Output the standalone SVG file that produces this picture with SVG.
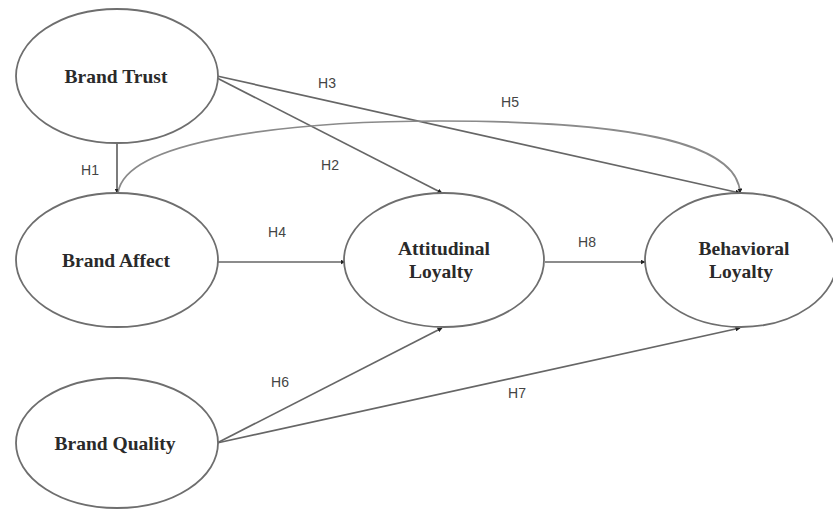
<svg xmlns="http://www.w3.org/2000/svg" width="833" height="510" viewBox="0 0 833 510">
<defs>
<marker id="ah" viewBox="0 0 10 10" refX="9" refY="5" markerWidth="5" markerHeight="5" orient="auto" markerUnits="userSpaceOnUse">
<path d="M0,0 L10,5 L0,10 z" fill="#222"/>
</marker>
<style>
.node{fill:#fff;stroke:#6e6e6e;stroke-width:1.8}
.lbl{font-family:"Liberation Serif","Times New Roman",serif;font-weight:bold;font-size:19.5px;fill:#2a2a2a;text-anchor:middle}
.edge{fill:none;stroke:#666;stroke-width:1.7;marker-end:url(#ah)}
.curve{stroke:#8a8a8a}
.h{font-family:"Liberation Sans",Arial,sans-serif;font-size:14px;fill:#444;text-anchor:middle}
</style>
</defs>
<rect width="833" height="510" fill="#fff"/>
<g id="connectors">
<path class="edge" d="M117,142 L117,193"/>
<path class="edge" d="M217,78 L442,193"/>
<path class="edge" d="M217,76 L740,193"/>
<path class="edge curve" d="M118,193 C125,140 290,121 440,121 C620,121 738,140 740,193"/>
<path class="edge" d="M217,262 L345,262"/>
<path class="edge" d="M545,262 L645,262"/>
<path class="edge" d="M217,443 L442,328"/>
<path class="edge" d="M217,443 L740,328"/>
<text class="h" x="90" y="175">H1</text>
<text class="h" x="330" y="170">H2</text>
<text class="h" x="327" y="88">H3</text>
<text class="h" x="277" y="237">H4</text>
<text class="h" x="510" y="107">H5</text>
<text class="h" x="280" y="387">H6</text>
<text class="h" x="517" y="398">H7</text>
<text class="h" x="587" y="247">H8</text>
</g>
<g id="brand-trust">
<ellipse class="node" cx="117" cy="76" rx="101" ry="67"/>
<text class="lbl" x="116" y="83">Brand Trust</text>
</g>
<g id="brand-affect">
<ellipse class="node" cx="117" cy="260" rx="101" ry="67"/>
<text class="lbl" x="116" y="267">Brand Affect</text>
</g>
<g id="brand-quality">
<ellipse class="node" cx="117" cy="443" rx="101" ry="65"/>
<text class="lbl" x="115" y="450">Brand Quality</text>
</g>
<g id="attitudinal-loyalty">
<ellipse class="node" cx="444" cy="260" rx="100" ry="67"/>
<text class="lbl" x="444" y="255">Attitudinal</text>
<text class="lbl" x="441" y="278">Loyalty</text>
</g>
<g id="behavioral-loyalty">
<ellipse class="node" cx="741" cy="260" rx="96" ry="67"/>
<text class="lbl" x="744" y="255">Behavioral</text>
<text class="lbl" x="741" y="278">Loyalty</text>
</g>
</svg>
